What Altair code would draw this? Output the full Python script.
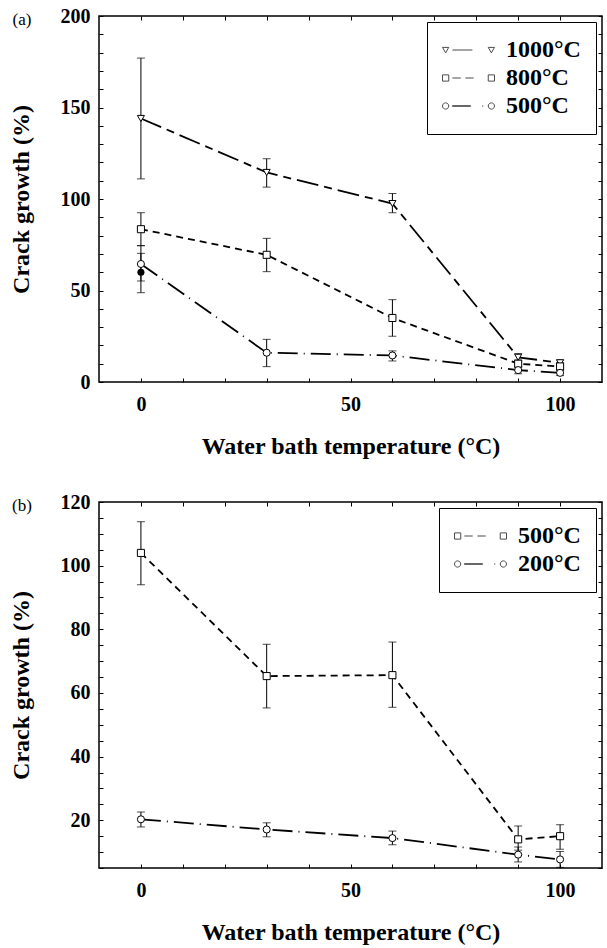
import altair as alt
import pandas as pd

FONT = "Liberation Serif, Times New Roman, Times, serif"

# ---------------- data ----------------
x_temps = [0, 30, 60, 90, 100]

# panel (a)
a_series = ["1000°C", "800°C", "500°C"]
a_1000 = [144, 114.5, 97.5, 13.5, 10.5]
a_1000_lo = [111, 106.5, 92.5, 11.5, 9]
a_1000_hi = [177, 122, 103, 15.5, 12]
a_800 = [83.5, 69.5, 35, 10, 8.5]
a_800_lo = [74.5, 60.3, 25, 8, 6.5]
a_800_hi = [92.5, 78.5, 45, 12, 10.5]
a_500 = [64.5, 16, 14.5, 6.5, 5]
a_500_lo = [55.2, 8.4, 11.5, 4.5, 3.5]
a_500_hi = [74.5, 23.3, 17, 8.5, 6.5]
a_filled_x = [0]
a_filled = [60]
a_filled_lo = [48.8]
a_filled_hi = [70.3]

# panel (b)
b_series = ["500°C", "200°C"]
b_500 = [104, 65.3, 65.6, 14, 15]
b_500_lo = [94, 55.3, 55.5, 10.6, 10.9]
b_500_hi = [113.8, 75.3, 76, 18.2, 18.6]
b_200 = [20.3, 17.1, 14.4, 9.2, 7.7]
b_200_lo = [17.9, 14.8, 12.3, 6.9, 5.2]
b_200_hi = [22.6, 19.2, 16.6, 11.6, 10.2]

x_domain = [-10, 110]
x_label_vals = [0, 50, 100]
x_tick_vals = [0, 10, 20, 30, 40, 50, 60, 70, 80, 90, 100]

a_y_domain = [0, 200]
a_y_label_vals = [0, 50, 100, 150, 200]
a_y_tick_vals = [0, 10, 20, 30, 40, 50, 60, 70, 80, 90, 100, 110, 120, 130,
                 140, 150, 160, 170, 180, 190, 200]

b_y_domain = [5, 120]
b_y_label_vals = [20, 40, 60, 80, 100, 120]
b_y_tick_vals = [5, 10, 15, 20, 25, 30, 35, 40, 45, 50, 55, 60, 65, 70, 75, 80,
                 85, 90, 95, 100, 105, 110, 115, 120]

panel_labels = ["(a)", "(b)"]
x_title = "Water bath temperature (°C)"
y_title = "Crack growth (%)"

# ---------------- styles ----------------
W, H = 503, 366
DASH_DOT = [20, 6, 1, 6]
SHORT = [7, 5]
LONG_SHORT = [22, 6, 8, 6]


def tri(cx):
    return f"M{cx-0.12},-0.1L{cx+0.12},-0.1L{cx},0.11Z"


def sq(cx):
    return f"M{cx-0.12},-0.12L{cx+0.12},-0.12L{cx+0.12},0.12L{cx-0.12},0.12Z"


def circ(cx):
    return (f"M{cx-0.12},0A0.12,0.12 0 1,0 {cx+0.12},0"
            f"A0.12,0.12 0 1,0 {cx-0.12},0Z")


P_TRI = tri(-0.88) + "M-0.62,0L0.15,0" + tri(0.88)
P_SQ = sq(-0.88) + "M-0.62,0L-0.3,0M-0.12,0L0.2,0" + sq(0.88)
P_CIRC = circ(-0.88) + "M-0.62,-0.012L0.08,-0.012L0.08,0.012L-0.62,0.012Z" + \
    "M0.52,0L0.57,0" + circ(0.88)


def tick_axis(orient, values, offset):
    return alt.Axis(orient=orient, offset=offset, values=values, labels=False,
                    ticks=True, tickSize=4, tickColor="black", tickWidth=1,
                    domain=False, grid=False, title=None)


def make_panel(series, ys, los, his, shapes, dashes, paths, y_domain,
               y_label_vals, y_tick_vals, label, filled=None):
    rows = []
    for s, yv, lo, hi in zip(series, ys, los, his):
        for xv, a, b, c in zip(x_temps, yv, lo, hi):
            rows.append({"series": s, "x": xv, "y": a, "lo": b, "hi": c})
    df = pd.DataFrame(rows)
    err_rows = [{"x": r["x"], "lo": r["lo"], "hi": r["hi"]} for r in rows]
    fdf = None
    if filled is not None:
        fx, fy, flo, fhi = filled
        fdf = pd.DataFrame({"x": fx, "y": fy, "lo": flo, "hi": fhi})
        for xv, lo, hi in zip(fx, flo, fhi):
            err_rows.append({"x": xv, "lo": lo, "hi": hi})
    edf = pd.DataFrame(err_rows)

    xs = alt.Scale(domain=x_domain, nice=False, zero=False)
    ysc = alt.Scale(domain=y_domain, nice=False, zero=False)

    x_lab = alt.Axis(orient="bottom", values=x_label_vals, ticks=False,
                     tickSize=0, domain=False, grid=False, labelFont=FONT,
                     labelFontSize=20, labelFontWeight="bold",
                     labelColor="black", labelPadding=12, title=x_title,
                     titleFont=FONT, titleFontSize=24, titleFontWeight="bold",
                     titleColor="black", titleX=W / 2, titleY=71,
                     titleBaseline="alphabetic", titleAlign="center")
    y_lab = alt.Axis(orient="left", values=y_label_vals, ticks=False,
                     tickSize=0, domain=False, grid=False, labelFont=FONT,
                     labelFontSize=20, labelFontWeight="bold",
                     labelColor="black", labelPadding=9, title=y_title,
                     titleFont=FONT, titleFontSize=24, titleFontWeight="bold",
                     titleColor="black", titleX=-71, titleY=H / 2,
                     titleAngle=270, titleBaseline="alphabetic",
                     titleAlign="center")

    base = alt.Chart(df)
    lines = base.mark_line(color="black", strokeWidth=1.8).encode(
        x=alt.X("x:Q", scale=xs, axis=x_lab),
        y=alt.Y("y:Q", scale=ysc, axis=y_lab),
        strokeDash=alt.StrokeDash("series:N",
                                  scale=alt.Scale(domain=series, range=dashes),
                                  legend=None),
    )
    err = alt.Chart(edf)
    rules = err.mark_rule(color="black", strokeWidth=1).encode(
        x=alt.X("x:Q", scale=xs, axis=tick_axis("top", x_tick_vals, -H)),
        y=alt.Y("lo:Q", scale=ysc, axis=tick_axis("right", y_tick_vals, -W)),
        y2="hi:Q",
    )
    caps_lo = err.mark_tick(orient="horizontal", size=8, thickness=1,
                            color="black").encode(
        x=alt.X("x:Q", scale=xs, axis=tick_axis("bottom", x_tick_vals, -H)),
        y=alt.Y("lo:Q", scale=ysc, axis=tick_axis("left", y_tick_vals, -W)),
    )
    caps_hi = err.mark_tick(orient="horizontal", size=8, thickness=1,
                            color="black").encode(
        x=alt.X("x:Q", scale=xs, axis=None),
        y=alt.Y("hi:Q", scale=ysc, axis=None),
    )
    points = base.mark_point(filled=True, fill="white", stroke="black",
                             strokeWidth=1, size=50, opacity=1).encode(
        x=alt.X("x:Q", scale=xs, axis=None),
        y=alt.Y("y:Q", scale=ysc, axis=None),
        shape=alt.Shape("series:N",
                        scale=alt.Scale(domain=series, range=shapes),
                        legend=None),
    )
    layers = [lines, rules, caps_lo, caps_hi, points]
    if fdf is not None:
        layers.append(alt.Chart(fdf).mark_point(filled=True, color="black",
                                                shape="circle", size=50,
                                                opacity=1).encode(
            x=alt.X("x:Q", scale=xs, axis=None),
            y=alt.Y("y:Q", scale=ysc, axis=None),
        ))
    legend = alt.Legend(orient="top-right", offset=6, padding=15,
                        strokeColor="black", fillColor="white", title=None,
                        labelFont=FONT, labelFontSize=24,
                        labelFontWeight="bold", labelColor="black",
                        labelOffset=11, symbolSize=2704, clipHeight=26,
                        rowPadding=2, symbolStrokeWidth=1,
                        symbolStrokeColor="black")
    leg_layer = base.transform_filter("false").mark_point(
        filled=False, color="black", size=2704, strokeWidth=1).encode(
        shape=alt.Shape("series:N",
                        scale=alt.Scale(domain=series, range=paths),
                        legend=legend),
    )
    layers.append(leg_layer)
    txt = alt.Chart(pd.DataFrame({"label": [label]})).mark_text(
        font=FONT, fontSize=17, align="center", baseline="middle",
        color="black").encode(
        x=alt.value(-77), y=alt.value(4), text="label:N")
    layers.append(txt)
    return alt.layer(*layers).resolve_scale(shape="independent").resolve_axis(
        x="independent", y="independent").properties(width=W, height=H)


top = make_panel(a_series, [a_1000, a_800, a_500],
                 [a_1000_lo, a_800_lo, a_500_lo],
                 [a_1000_hi, a_800_hi, a_500_hi],
                 ["triangle-down", "square", "circle"],
                 [LONG_SHORT, SHORT, DASH_DOT],
                 [P_TRI, P_SQ, P_CIRC],
                 a_y_domain, a_y_label_vals, a_y_tick_vals, panel_labels[0],
                 filled=(a_filled_x, a_filled, a_filled_lo, a_filled_hi))

bottom = make_panel(b_series, [b_500, b_200], [b_500_lo, b_200_lo],
                    [b_500_hi, b_200_hi], ["square", "circle"],
                    [SHORT, DASH_DOT], [P_SQ, P_CIRC],
                    b_y_domain, b_y_label_vals, b_y_tick_vals, panel_labels[1])

chart = alt.vconcat(top, bottom, spacing=120, bounds="flush").resolve_scale(
    shape="independent", strokeDash="independent").configure_view(
    stroke="black", strokeWidth=1.5).properties(
    padding={"left": 8, "top": 5, "right": 0, "bottom": 0},
    background="white")

chart.save("out.html", embed_options={"renderer": "svg", "actions": False})
